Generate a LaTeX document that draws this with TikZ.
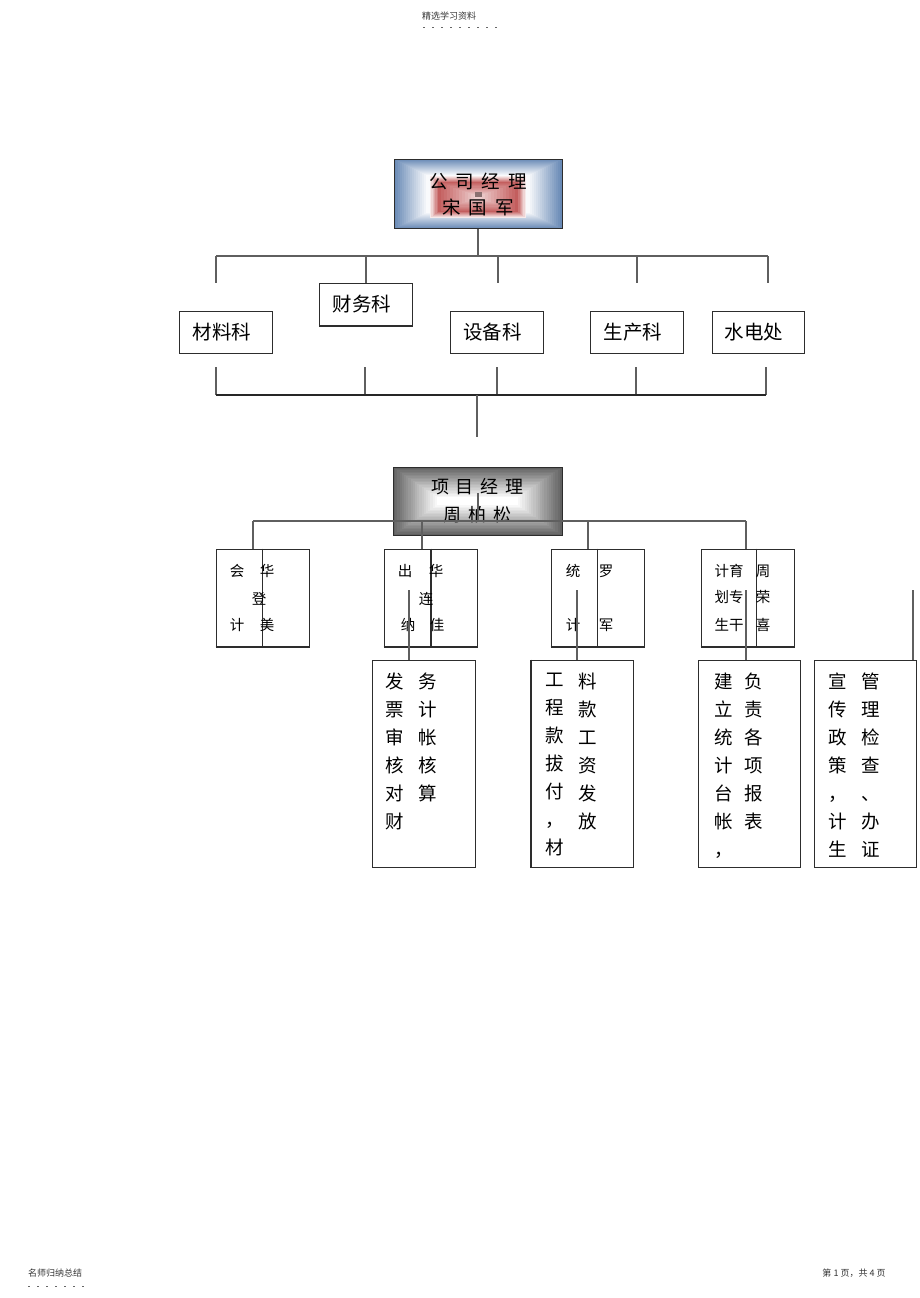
\documentclass[tikz,border=0pt]{standalone}
\usepackage{fontspec}
\setmainfont{Noto Sans CJK SC}
\definecolor{gmblue}{RGB}{105,138,182}
\definecolor{gmred}{RGB}{178,48,48}
\definecolor{linegray}{RGB}{95,95,95}
\definecolor{boxline}{RGB}{45,45,45}
\newcommand{\wsp}{\hspace{8pt}}
\tikzstyle{link}=[draw=linegray, line width=1.2pt]
\tikzstyle{bottom}=[draw=boxline, line width=2pt]
\tikzstyle{dept}=[rectangle, draw=boxline, line width=1pt, minimum width=93pt, minimum height=42pt, inner sep=0pt, font=\fontsize{19.5}{20}\selectfont, execute at end node={\hspace{8pt}}]
\tikzstyle{chief}=[rectangle, draw=boxline, line width=1pt, minimum width=168pt, minimum height=69pt, inner sep=0pt, align=center]
\tikzstyle{staff}=[rectangle, draw=boxline, line width=1pt, minimum width=93pt, minimum height=97pt, inner sep=0pt]
\tikzstyle{duty}=[rectangle, draw=boxline, line width=1pt, minimum width=102.5pt, minimum height=207pt, inner sep=0pt]
\tikzstyle{person}=[inner sep=0pt, font=\fontsize{14.5}{15}\selectfont]
\tikzstyle{duties}=[inner sep=0pt, anchor=north, align=center, font=\fontsize{18.5}{28}\selectfont]
\tikzstyle{note}=[inner sep=0pt, font=\fontsize{9}{9}\selectfont, text=black!80]

\begin{document}
\begin{tikzpicture}[x=1pt,y=-1pt]
\useasboundingbox (0,0) rectangle (920,1298);
\draw (449,16) node[note] (hd) {精选学习资料};
\draw[dash pattern=on 2pt off 7pt, line width=0.7pt, black!60] (423,27) -- (497,27);
\draw (55,1273) node[note] (ft) {名师归纳总结};
\draw[dash pattern=on 2pt off 7pt, line width=0.7pt, black!60] (28,1286) -- (86,1286);
\draw (854,1273) node[note] (pg) {第 1 页，共 4 页};

% company manager
\foreach \i [evaluate=\i as \p using int(100-6*\i)] in {0,...,16}
  \fill[gmblue!\p!white] (394+2*\i,159+\i) rectangle (562-2*\i,229-\i);
\foreach \i [evaluate=\i as \p using int(10+11*\i)] in {0,...,6}
  \fill[gmred!\p!white] (430+1.3*\i,176+\i) rectangle (526-1.3*\i,218-\i);
\foreach \i [evaluate=\i as \p using int(78-4.5*\i)] in {0,...,12}
  \fill[gmred!\p!white] (438+3*\i,182+1.1*\i) rectangle (518-3*\i,212-1.1*\i);
\fill[gray!80!gmred] (475,192) rectangle (482,197);
\draw (478,194) node[chief, font=\fontsize{18.5}{26}\selectfont] (gm) {公\wsp{}司\wsp{}经\wsp{}理\\宋\wsp{}国\wsp{}军};

\draw (226,332) node[dept] (mat) {材料科};
\draw (366,304) node[dept] (fin) {财务科};
\draw (496.5,332) node[dept] (equ) {设备科};
\draw (637,332) node[dept] (pro) {生产科};
\draw (758,332) node[dept, minimum width=92pt] (wat) {水电处};
\draw[bottom] (fin.south west) -- (fin.south east);

\foreach \x/\n in {216/1,366/2,498/3,637/4,768/5} {
  \coordinate (tb\n) at (\x,256);
  \draw[link] (tb\n) -- (tb\n |- fin.north);
}
\draw[link] (gm.south) -- (gm.south |- tb1);
\draw[link] (tb1) -- (tb5);

\foreach \x/\n in {216/1,365/2,497/3,636/4,766/5} {
  \coordinate (lt\n) at (\x,367);
  \coordinate (lb\n) at (\x,395);
  \draw[link] (lt\n) -- (lb\n);
}
\draw[link, line width=2pt, draw=black!85] (lb1) -- (lb5);
\coordinate (pmin) at (477,437);
\draw[link] (pmin |- lb1) -- (pmin);

% project manager
\foreach \i [evaluate=\i as \p using int(62-3.1*\i)] in {0,...,20}
  \fill[black!\p!white] (393+2.2*\i,467+1.5*\i) rectangle (562-2.2*\i,535-1.5*\i);
\draw (477.5,501) node[chief, minimum width=169pt, minimum height=68pt, font=\fontsize{18}{28}\selectfont] (pm) {项\hspace{7pt}目\hspace{7pt}经\hspace{7pt}理\\周\hspace{7pt}柏\hspace{7pt}松};

\draw (262.5,597.5) node[staff] (acc) {};
\draw (430.5,597.5) node[staff] (cash) {};
\draw (597.5,597.5) node[staff] (stat) {};
\draw (747.5,597.5) node[staff] (plan) {};
\draw[draw=boxline, line width=1pt] (acc.north) -- (acc.south);
\draw[bottom] (cash.north) -- (cash.south);
\draw[draw=boxline, line width=1pt] (stat.north) -- (stat.south);
\draw[draw=boxline, line width=1pt] ([xshift=8.5pt]plan.north) -- ([xshift=8.5pt]plan.south);
\foreach \b in {acc,cash,stat,plan}
  \draw[bottom] (\b.south west) -- (\b.south east);

\coordinate (pb1) at (253,521);
\coordinate (pb2) at (422,521);
\coordinate (pb3) at (588,521);
\coordinate (pb4) at (746,521);
\coordinate (pmc) at (478,493);
\draw[link] (pb1) -- (pb4);
\draw[link] (pmc) -- (pmc |- pb1);
\draw[link] (pb1) -- (pb1 |- acc.north);
\draw[link] (pb2) -- (pb2 |- cash.north);
\draw[link] (pb3) -- (pb3 |- stat.north);
\draw[link] (pb4) -- (pb4 |- plan.north);

\draw (237,571) node[person] (a1) {会};
\draw (237,625) node[person] (a2) {计};
\draw (267,571) node[person] (a3) {华};
\draw (259,599) node[person] (a4) {登};
\draw (267,625) node[person] (a5) {美};
\draw (405,571) node[person] (c1) {出};
\draw (408,625) node[person] (c2) {纳};
\draw (436,571) node[person] (c3) {华};
\draw (426,599) node[person] (c4) {连};
\draw (437,625) node[person] (c5) {佳};
\draw (573,571) node[person] (s1) {统};
\draw (573,625) node[person] (s2) {计};
\draw (606,571) node[person] (s3) {罗};
\draw (606,625) node[person] (s4) {军};
\draw (729,571) node[person] (p1) {计育};
\draw (729,597) node[person] (p2) {划专};
\draw (729,625) node[person] (p3) {生干};
\draw (763,571) node[person] (p4) {周};
\draw (763,597) node[person] (p5) {荣};
\draw (763,625) node[person] (p6) {喜};

\draw (424,763.5) node[duty] (duty1) {};
\draw (582.5,763.5) node[duty] (duty2) {};
\draw (749.5,763.5) node[duty] (duty3) {};
\draw (865.5,763.5) node[duty] (duty4) {};
\draw[bottom] (duty2.north west) -- (duty2.south west);

\coordinate (dv1) at (409,590);
\coordinate (dv2) at (577,590);
\coordinate (dv3) at (746,590);
\coordinate (dv4) at (913,590);
\draw[link] (dv1) -- (dv1 |- duty1.north);
\draw[link] (dv2) -- (dv2 |- duty2.north);
\draw[link] (dv3) -- (dv3 |- duty3.north);
\draw[link] (dv4) -- (dv4 |- duty4.north);

\draw (395,673) node[duties] (f1) {发\\票\\审\\核\\对\\财};
\draw (428,673) node[duties] (f2) {务\\计\\帐\\核\\算};
\draw (555,673) node[duties] (m1) {工\\程\\款\\拔\\付\\，\\材};
\draw (588,673) node[duties] (m2) {料\\款\\工\\资\\发\\放};
\draw (724,673) node[duties] (r1) {建\\立\\统\\计\\台\\帐\\，};
\draw (754,673) node[duties] (r2) {负\\责\\各\\项\\报\\表};
\draw (838,673) node[duties] (g1) {宣\\传\\政\\策\\，\\计\\生};
\draw (871,673) node[duties] (g2) {管\\理\\检\\查\\、\\办\\证};
\end{tikzpicture}
\end{document}
